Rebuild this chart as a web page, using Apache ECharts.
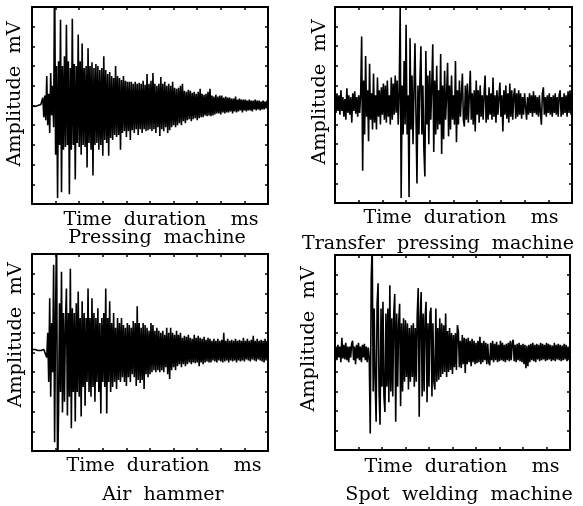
<!DOCTYPE html>
<html><head><meta charset="utf-8">
<script src="https://cdn.jsdelivr.net/npm/echarts@6/dist/echarts.min.js"></script>
<style>html,body{margin:0;padding:0;background:#fff}#c{width:583px;height:506px}</style>
</head><body><div id="c"></div>
<script>
const pressingMachine = [
  0, 1, 0, -1, 0, 1, 0, -1, 0, 1,
  0, 8, -12, 10, -15, 30, -20, 12, -28, 33,
  -10, 20, -22, 140, -50, 40, -94, 45, -40, 87,
  -88, 40, -45, 50, -42, 82, -40, 45, -90, 38,
  -45, 88, -40, 42, -75, 40, -38, 72, -42, 45,
  -50, 63, -40, 38, -42, 40, -63, 58, -38, 40,
  -45, 44, -71, 38, -40, 42, -38, 40, -45, 36,
  -40, 38, -51, 50, -35, 36, -38, 32, -51, 34,
  -33, 30, -35, 28, -30, 40, -32, 30, -30, 28,
  -45, 26, -28, 30, -26, 25, -32, 24, -26, 24,
  -35, 24, -25, 22, -28, 24, -24, 22, -30, 23,
  -24, 22, -28, 25, -24, 21, -26, 32, -25, 22,
  -24, 25, -26, 33, -24, 22, -28, 20, -22, 22,
  -31, 29, -24, 22, -26, 24, -22, 20, -28, 22,
  -25, 20, -22, 24, -20, 18, -22, 17, -20, 18,
  -18, 20, -20, 22, -16, 15, -18, 14, -15, 16,
  -14, 15, -16, 13, -14, 14, -13, 12, -15, 14,
  -13, 17, -12, 12, -12, 11, -10, 12, -11, 14,
  -10, 17, -11, 10, -10, 9, -9, 11, -8, 9,
  -8, 10, -9, 10, -7, 8, -8, 9, -7, 8,
  -7, 8, -6, 7, -8, 7, -6, 9, -7, 6,
  -6, 7, -5, 6, -7, 6, -5, 6, -6, 5,
  -5, 6, -5, 5, -6, 5, -4, 6, -5, 5,
  -4, 5, -5, 4, -4, 5, -4, 4, -3, 5,
  -3
];
const transferPressingMachine = [
  5, -8, 12, -6, 10, -10, 15, -6, 8, -12,
  6, -15, 17, -8, 10, -10, 8, -18, 12, -6,
  14, -9, 8, -12, 10, -8, 12, 70, -67, 25,
  -30, 50, -12, 15, -37, 42, -15, 12, -25, 32,
  -18, 10, -25, 28, -12, 15, -20, 18, -10, 22,
  -15, 20, -18, 25, -12, 10, -20, 28, -15, 22,
  -10, 30, -8, 25, -20, 12, 100, -95, 20, -30,
  45, -20, 82, -30, 10, -94, 68, -25, 30, -40,
  15, 63, -10, -80, 20, -30, 25, 60, -30, 20,
  -45, -73, 55, -20, 30, -40, 35, -15, 20, 62,
  -48, 25, -30, 40, -25, 15, -20, 52, -50, 20,
  -35, 35, -15, 10, 43, -32, 20, -25, 30, -15,
  10, -20, 45, -38, 15, -20, 25, -12, 10, 32,
  -15, -22, 20, -15, 22, -18, 10, 35, -15, 12,
  -20, 15, -27, 25, -10, 15, -18, 20, -12, 10,
  -15, 12, 30, -18, 10, -15, 18, -10, 12, -15,
  28, -12, 10, -18, 15, -10, 8, 23, -12, 10,
  -27, 15, -10, 20, -14, 12, -18, 22, -12, 15,
  -15, 10, 17, -14, 12, -12, 15, -10, 12, -14,
  8, -10, 12, 10, -15, 8, -10, 12, -8, 10,
  -12, 14, -8, 10, -10, 8, -12, 10, -8, -20,
  12, 18, -10, 8, -12, 10, -8, 12, -10, 8,
  -12, 10, -8, 12, -10, 8, -12, 10, 15, -12,
  8, -10, 12, -8, 10, -12, 14, -8, 15, -10,
  8
];
const airHammer = [
  3, 2, 3, 3, 2, 3, 2, 3, 3, 2,
  3, 2, 3, 3, 2, -5, 20, -30, 55, -45,
  30, -20, 89, -91, 40, 130, -130, -60, 50, -40,
  82, -61, 40, -50, 30, 65, -64, 40, -45, 85,
  -77, 45, -40, 40, -70, 50, -40, 62, -45, 35,
  -65, 52, -35, 40, -54, 35, -30, 65, -40, 35,
  -45, 55, -35, 40, -50, 35, -30, 45, -40, 30,
  -62, 35, -30, 40, -35, 65, -62, 35, -30, 52,
  -40, 30, -35, 40, -30, 25, -37, 35, -28, 30,
  -30, 35, -25, 28, -30, 25, -34, 30, -25, 28,
  -30, 25, -22, 32, -25, 30, -34, 47, -28, 30,
  -31, 25, -28, 30, -37, 28, -22, 25, -25, 22,
  -22, 30, -20, 28, -18, 22, -20, 25, -18, 22,
  -20, 20, -18, 22, -20, 18, -15, 25, -22, 20,
  -27, 25, -18, 20, -15, 18, -18, 22, -14, 18,
  -12, 20, -15, 15, -12, 17, -14, 16, -12, 18,
  -10, 15, -12, 14, -10, 18, -11, 15, -10, 17,
  -14, 15, -10, 14, -12, 16, -10, 13, -9, 15,
  -10, 14, -10, 12, -8, 14, -9, 12, -10, 14,
  -8, 12, -9, 13, -10, 20, -9, 12, -8, 14,
  -10, 12, -8, 13, -9, 12, -8, 14, -10, 12,
  -8, 13, -9, 12, -8, 15, -9, 12, -7, 14,
  -8, 12, -9, 13, -7, 17, -8, 12, -9, 14,
  -7, 12, -8, 13, -9, 12, -10, 14, -8, 12,
  -8
];
const spotWeldingMachine = [
  -4, 6, -8, 8, -5, 6, -10, 15, -6, 8,
  -7, 10, -8, 6, -10, 6, -5, 9, 12, -8,
  6, -12, 8, -6, 10, -8, 6, -10, 8, -5,
  9, -8, 6, -10, 5, -6, -83, 76, 110, -40,
  45, -30, -71, 50, 71, -40, -74, 45, -35, 52,
  -45, -61, 40, -35, 45, -51, 69, -40, 35, -45,
  40, 60, -71, 40, -35, 30, 50, -55, 30, -40,
  35, -30, 33, -25, 30, -38, 25, -30, 28, -25,
  30, -35, 25, -30, 40, 66, -66, 35, 62, -45,
  40, -40, 35, 52, -51, 30, -35, 40, 46, -45,
  30, -30, -38, 45, -30, 25, -28, 35, -25, 30,
  -22, 28, -20, 40, -25, 22, -20, 25, -18, 20,
  -22, 18, -15, 20, -18, 28, 21, -15, 12, -16,
  18, -12, 15, -21, 14, -12, 15, -10, 12, -14,
  14, -10, 12, -12, 10, -11, 12, -10, 16, -12,
  10, -10, 12, -8, 10, -12, 9, -10, -13, 10,
  -8, 12, -10, 9, -8, 11, -10, 8, -9, 12,
  -8, 10, -9, 8, -10, 9, -8, 10, -9, 12,
  -8, 10, 13, -9, 8, -10, 9, -8, 10, -9,
  8, -10, 9, -12, 8, -16, 7, -14, 8, -10,
  9, -8, 10, -9, 8, -10, 9, -7, 8, -9,
  10, -8, 9, -7, 8, -9, 10, -8, 9, -7,
  8, -9, 7, -8, 10, -9, 8, -7, 9, -8,
  8, -9, 7, -8, 9, -7, 8, -9, 6, -8,
  6
];
const panelCaptions = ['Pressing  machine', 'Transfer  pressing  machine', 'Air  hammer', 'Spot  welding  machine'];
const xAxisTitle = 'Time  duration    ms';
const yAxisTitle = 'Amplitude  mV';
const xMin = 0, xMax = 240, xInterval = 24;
const yMin = -100, yMax = 100, yInterval = 20;

const panels = [
  { data: pressingMachine, grid: { left: 32, top: 7, width: 236, height: 197 }, yT: [15, 94], xT: [161, 220], cT: [157, 238] },
  { data: transferPressingMachine, grid: { left: 335, top: 7, width: 237, height: 196 }, yT: [320, 92], xT: [461, 218], cT: [438, 244] },
  { data: airHammer, grid: { left: 32, top: 254, width: 236, height: 197 }, yT: [16, 335], xT: [164, 466], cT: [163, 495] },
  { data: spotWeldingMachine, grid: { left: 335, top: 255, width: 235, height: 195 }, yT: [309, 339], xT: [462, 467], cT: [459, 495] }
];

const lineCol = '#000';
function xAx(gi, pos) {
  return { type: 'value', gridIndex: gi, position: pos, min: xMin, max: xMax, interval: xInterval,
    axisLine: { show: true, onZero: false, lineStyle: { color: lineCol, width: 2 } },
    axisTick: { show: true, inside: true, length: 3, lineStyle: { color: lineCol, width: 1.5 } },
    axisLabel: { show: false }, splitLine: { show: false } };
}
function yAx(gi, pos) {
  return { type: 'value', gridIndex: gi, position: pos, min: yMin, max: yMax, interval: yInterval,
    axisLine: { show: true, onZero: false, lineStyle: { color: lineCol, width: 2 } },
    axisTick: { show: true, inside: true, length: 3, lineStyle: { color: lineCol, width: 1.5 } },
    axisLabel: { show: false }, splitLine: { show: false } };
}
const FONT = '"DejaVu Serif", serif';
function txt(s, p, rot, sx) {
  return { type: 'text', x: p[0], y: p[1], rotation: rot || 0, scaleX: sx || 1.06, silent: true,
    style: { text: s, x: 0, y: 0, fill: '#000', fontSize: 18, fontFamily: FONT,
      align: 'center', verticalAlign: 'middle', textAlign: 'center', textVerticalAlign: 'middle' } };
}

const grids = [], xAxes = [], yAxes = [], series = [], graphics = [];
panels.forEach((p, k) => {
  grids.push(Object.assign({ containLabel: false }, p.grid));
  xAxes.push(xAx(k, 'bottom')); xAxes.push(xAx(k, 'top'));
  yAxes.push(yAx(k, 'left')); yAxes.push(yAx(k, 'right'));
  series.push({ type: 'line', xAxisIndex: 2 * k, yAxisIndex: 2 * k, clip: true,
    data: p.data.map((v, i) => [i, v]), showSymbol: false, symbol: 'none', smooth: false,
    lineStyle: { color: lineCol, width: 1.6 }, silent: true });
  graphics.push(txt(yAxisTitle, p.yT, Math.PI / 2, 1.07));
  graphics.push(txt(xAxisTitle, p.xT));
  graphics.push(txt(panelCaptions[k], p.cT));
});

const chart = echarts.init(document.getElementById('c'), null, { renderer: 'canvas' });
chart.setOption({
  animation: false, backgroundColor: '#fff',
  grid: grids, xAxis: xAxes, yAxis: yAxes, series: series, graphic: graphics
});
</script></body></html>
